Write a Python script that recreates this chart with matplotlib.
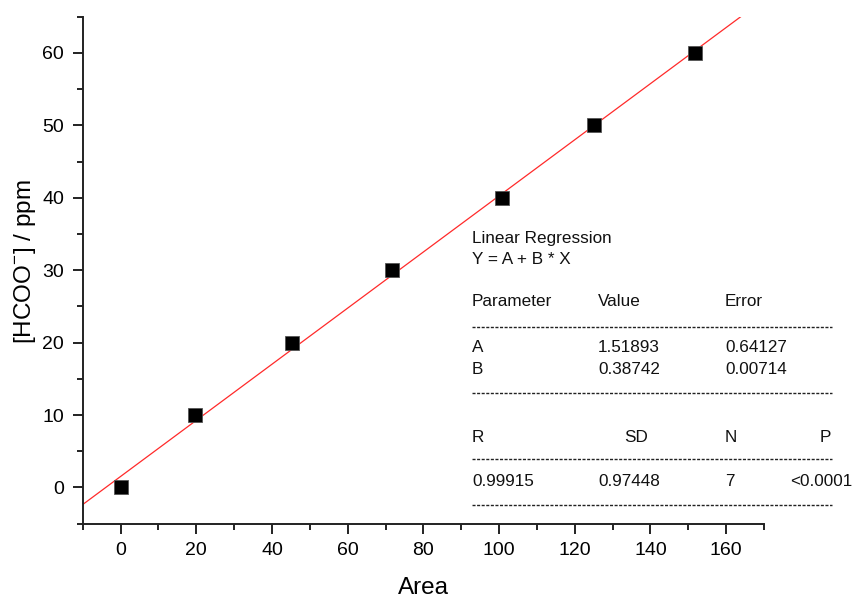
import matplotlib
matplotlib.use('Agg')
import matplotlib.pyplot as plt
from matplotlib.lines import Line2D
from matplotlib.ticker import MultipleLocator
import numpy as np

# calibration data
area = [0, 19.6, 45.4, 71.8, 100.8, 125.1, 151.9]
conc = [0, 10, 20, 30, 40, 50, 60]

# fit result shown in the box
A = 1.51893
B = 0.38742

plt.rcParams['font.family'] = ['Liberation Sans', 'DejaVu Sans']
plt.rcParams['mathtext.default'] = 'regular'

W, H = 855, 599
fig = plt.figure(figsize=(W / 100, H / 100), dpi=100)
ax = fig.add_axes([82.7 / W, 1 - 523.7 / H, (764 - 82.7) / W, (523.7 - 16.7) / H])

xl = np.array([-10, 170])
ax.plot(xl, A + B * xl, color='#ff2a2a', lw=0.9, zorder=2)
ax.plot(area, conc, 's', color='black', mec='#555555', mew=0.6, ms=10, zorder=3)

ax.set_xlim(-10, 170)
ax.set_ylim(-5, 65)
ax.xaxis.set_major_locator(MultipleLocator(20))
ax.xaxis.set_minor_locator(MultipleLocator(10))
ax.yaxis.set_major_locator(MultipleLocator(10))
ax.yaxis.set_minor_locator(MultipleLocator(5))
ax.spines['top'].set_visible(False)
ax.spines['right'].set_visible(False)
for s in ['left', 'bottom']:
    ax.spines[s].set_linewidth(1.4)
    ax.spines[s].set_color('#222222')
ax.tick_params(which='major', length=7.5, width=1.4, labelsize=14, pad=6, color='#222222')
ax.tick_params(which='minor', length=4.5, width=1.4, color='#222222')

fig.text(423 / W, 1 - 588 / H, 'Area', fontsize=17.5, ha='center', va='center')
fig.text(25 / W, 1 - 262 / H, '[HCOO$^{-}$] / ppm', fontsize=17.5, rotation=90,
         ha='center', va='center')


def px(x, y):
    return x / W, 1 - y / H


def txt(x, y, s, ha='left'):
    fig.text(*px(x, y), s, fontsize=12.3, ha=ha, va='center', color='#111111')


def dash(y):
    x0, yy = px(472, y)
    x1, _ = px(832, y)
    fig.add_artist(Line2D([x0, x1], [yy, yy], transform=fig.transFigure,
                          color='#222222', lw=1.0, ls=(0, (2.2, 1.1))))


txt(472, 238, 'Linear Regression')
txt(472, 259, 'Y = A + B * X')
txt(472, 302, 'Parameter')
txt(598, 302, 'Value')
txt(725, 302, 'Error')
dash(327)
txt(472, 348, 'A')
txt(598, 348, '1.51893')
txt(725, 348, '0.64127')
txt(472, 370, 'B')
txt(598, 370, '0.38742')
txt(725, 370, '0.00714')
dash(393)
txt(472, 437, 'R')
txt(648, 437, 'SD', ha='right')
txt(725, 437, 'N')
txt(831, 437, 'P', ha='right')
dash(459)
txt(472, 481, '0.99915')
txt(598, 481, '0.97448')
txt(725, 481, '7')
txt(852, 481, '<0.0001', ha='right')
dash(505)

fig.savefig('out.png', dpi=100)
